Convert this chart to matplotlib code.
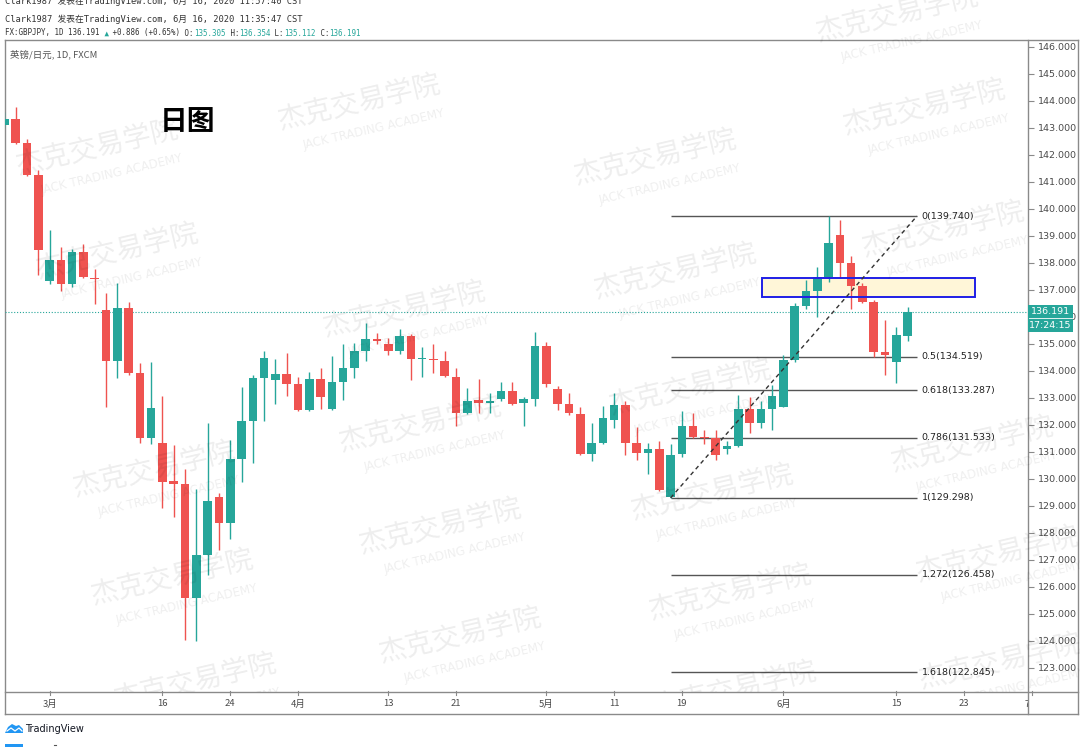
import matplotlib
matplotlib.use('Agg')
import matplotlib.pyplot as plt
from matplotlib.patches import Rectangle, Polygon, Ellipse
import pandas as pd
import numpy as np

# ---------------- data ----------------
dates = pd.bdate_range('2020-02-25', '2020-06-16')
opens = [143.11, 143.32, 142.43, 141.26, 137.33, 138.11, 137.22, 138.42, 137.45, 136.26,
         134.37, 136.33, 133.93, 131.52, 131.33, 129.91, 129.80, 125.58, 127.19, 129.34,
         128.38, 130.74, 132.15, 133.73, 133.67, 133.89, 133.51, 132.56, 133.69, 132.58,
         133.58, 134.10, 134.74, 135.17, 135.00, 134.75, 135.30, 134.44, 134.45, 134.37,
         133.79, 132.43, 132.93, 132.80, 132.96, 133.27, 132.80, 132.95, 134.93, 133.32,
         132.78, 132.41, 130.93, 131.32, 132.19, 132.74, 131.32, 130.95, 131.11, 129.35,
         130.93, 131.96, 131.57, 131.50, 131.10, 131.22, 132.59, 132.09, 132.58, 132.68,
         134.41, 136.41, 136.97, 137.47, 139.04, 137.99, 137.15, 136.57, 134.71, 134.34,
         135.305]
highs = [143.60, 143.79, 142.58, 141.44, 139.22, 138.60, 138.50, 138.70, 137.78, 136.89,
         137.25, 136.57, 134.31, 134.34, 133.07, 131.26, 130.36, 129.62, 132.09, 129.47,
         131.44, 133.42, 133.85, 134.74, 134.43, 134.67, 133.79, 133.97, 134.10, 134.57,
         135.00, 135.05, 135.79, 135.40, 135.21, 135.54, 135.37, 134.90, 135.00, 134.75,
         134.10, 133.36, 133.69, 133.20, 133.60, 133.60, 133.03, 135.46, 135.09, 133.44,
         133.20, 132.66, 132.06, 132.70, 133.17, 132.90, 131.94, 131.32, 131.42, 131.30,
         132.53, 132.46, 131.81, 131.81, 131.42, 133.11, 133.03, 132.90, 133.48, 134.59,
         136.51, 137.37, 137.86, 139.74, 139.59, 138.26, 137.25, 136.63, 135.90, 135.64,
         136.354]
lows = [143.00, 142.40, 141.22, 137.56, 137.22, 136.97, 137.10, 137.44, 136.48, 132.67,
        133.74, 133.85, 131.34, 131.30, 128.93, 128.60, 124.04, 124.01, 126.44, 127.37,
        127.78, 129.90, 130.59, 132.16, 132.78, 133.07, 132.50, 132.53, 132.58, 132.56,
        132.93, 133.73, 134.37, 135.00, 134.59, 134.63, 133.67, 133.77, 133.94, 133.79,
        131.96, 132.41, 132.43, 132.46, 132.89, 132.74, 131.96, 132.70, 133.40, 132.56,
        132.37, 130.89, 130.68, 131.29, 131.88, 130.89, 130.70, 130.19, 129.55, 129.298,
        130.80, 131.51, 131.30, 130.70, 130.93, 131.20, 131.69, 131.88, 131.81, 132.68,
        134.35, 136.29, 135.99, 137.31, 137.47, 136.29, 136.53, 134.53, 133.85, 133.54,
        135.112]
closes = [143.33, 142.43, 141.26, 138.48, 138.11, 137.22, 138.42, 137.49, 137.40, 134.37,
          136.33, 133.93, 131.52, 132.63, 129.89, 129.81, 125.58, 127.19, 129.20, 128.38,
          130.74, 132.15, 133.74, 134.49, 133.89, 133.52, 132.56, 133.69, 133.05, 133.58,
          134.10, 134.74, 135.17, 135.12, 134.75, 135.30, 134.44, 134.47, 134.40, 133.81,
          132.43, 132.90, 132.80, 132.89, 133.27, 132.78, 132.95, 134.93, 133.52, 132.78,
          132.43, 130.93, 131.32, 132.25, 132.74, 131.32, 130.95, 131.11, 129.59, 130.89,
          131.96, 131.57, 131.50, 130.89, 131.22, 132.59, 132.09, 132.59, 133.07, 134.41,
          136.41, 136.97, 137.47, 138.75, 137.99, 137.15, 136.57, 134.71, 134.59, 135.33,
          136.191]

tick_dates = ['2020-03-02', '2020-03-16', '2020-03-24', '2020-04-01', '2020-04-13', '2020-04-21',
              '2020-05-01', '2020-05-11', '2020-05-19', '2020-06-01', '2020-06-15', '2020-06-23',
              '2020-07-01']
tick_labels = ['3月', '16', '24', '4月', '13', '21', '5月', '11', '19', '6月', '15', '23', '7月']

fib_levels = ['0', '0.5', '0.618', '0.786', '1', '1.272', '1.618']
fib_prices = [139.740, 134.519, 133.287, 131.533, 129.298, 126.458, 122.845]
fib_start, fib_end = '2020-05-18', 80.83  # start date of the tool, end position (bar units)

zone_low, zone_high = 136.74, 137.44
last_price = 136.191
countdown = '17:24:15'

# ---------------- layout ----------------
W, H = 1080, 752
UP, DN = '#26a69a', '#ef5350'
CJK = ['Noto Sans CJK SC', 'DejaVu Sans']
MONO = ['DejaVu Sans Mono', 'Noto Sans CJK SC']

fig = plt.figure(figsize=(10.8, 7.52), dpi=100)
fig.patch.set_facecolor('white')

bg = fig.add_axes([0, 0, 1, 1], zorder=0)
bg.set_xlim(0, W); bg.set_ylim(H, 0); bg.axis('off')

Lp, Rp, Tp, Bp, Fb = 5, 1028, 40, 692, 714
Y_TOP, Y_BOT = 146.259, 122.111
ax = fig.add_axes([Lp / W, 1 - Bp / H, (Rp - Lp) / W, (Bp - Tp) / H], zorder=2)
ax.patch.set_alpha(0)
for s in ax.spines.values():
    s.set_visible(False)

full_days = pd.bdate_range('2020-02-25', '2020-07-10')
pos_of = {d.strftime('%Y-%m-%d'): i for i, d in enumerate(full_days)}
xs = np.array([pos_of[d.strftime('%Y-%m-%d')] for d in dates])

x_lo, x_hi = 0.05, 90.66
ax.set_xlim(x_lo, x_hi)
ax.set_ylim(Y_BOT, Y_TOP)

# frame lines
lc = '#8a8a8a'
bg.plot([5, 5], [40, Fb], color=lc, lw=1)
bg.plot([1078, 1078], [40, Fb], color=lc, lw=1)
bg.plot([Rp, Rp], [40, Fb], color=lc, lw=1)
bg.plot([5, 1078], [40, 40], color=lc, lw=1)
bg.plot([5, 1078], [Bp, Bp], color=lc, lw=1)
bg.plot([5, 1078], [Fb, Fb], color=lc, lw=1)

# demand/supply zone
x0z = 67.1
ax.add_patch(Rectangle((x0z, zone_low), 86.0 - x0z, zone_high - zone_low,
                       facecolor='#fff6d8', edgecolor='none', zorder=1))
ax.add_patch(Rectangle((x0z, zone_low), 86.0 - x0z, zone_high - zone_low,
                       facecolor='none', edgecolor='#1f1fe6', lw=1.4, zorder=4))

# last price line
ax.axhline(last_price, color=UP, ls=(0, (1, 1.6)), lw=0.8, zorder=1)

# candles
o = np.array(opens); h = np.array(highs); l = np.array(lows); c = np.array(closes)
cols = [UP if cc >= oo else DN for oo, cc in zip(o, c)]
ax.vlines(xs, l, h, colors=cols, lw=1, zorder=3)
body_lo = np.minimum(o, c)
body_h = np.maximum(np.abs(c - o), 0.045)
ax.bar(xs, body_h, bottom=body_lo, width=0.76, color=cols, zorder=3, linewidth=0)

# fibonacci
fx0 = pos_of[fib_start]
ax.hlines(fib_prices, fx0, fib_end, colors='#555555', lw=1, zorder=2)
for lv, p in zip(fib_levels, fib_prices):
    ax.text(fib_end + 0.4, p, f'{lv}({p:.3f})', va='center', ha='left', fontsize=6.8,
            color='#222222', zorder=5)
ax.plot([fx0, fib_end], [fib_prices[4], fib_prices[0]], color='#333333',
        ls=(0, (3, 2.5)), lw=1, zorder=4)

# price axis
ax.yaxis.tick_right()
yt = np.arange(123, 147)
ax.set_yticks(yt)
ax.set_yticklabels([f'{v:.3f}' for v in yt])
ax.tick_params(axis='y', length=4, width=0.8, color='#8a8a8a', labelsize=6.8,
               labelcolor='#4a4a4a', pad=3)
ax.set_xticks([])

# last price tags (drawn above the price-axis labels)
top = fig.add_axes([0, 0, 1, 1], zorder=3)
top.set_xlim(0, W); top.set_ylim(H, 0); top.axis('off'); top.patch.set_alpha(0)
ypx = lambda p: Tp + (Y_TOP - p) / (Y_TOP - Y_BOT) * (Bp - Tp)
yl = ypx(last_price)
top.add_patch(Rectangle((Rp, yl - 7), 45, 13.5, facecolor=UP, edgecolor='none'))
top.add_patch(Rectangle((Rp, yl + 6.5), 45, 13.5, facecolor=UP, edgecolor='none'))
top.plot([Rp + 1, Rp + 44], [yl + 6.5, yl + 6.5], color='white', lw=0.6)
top.text(Rp + 22.5, yl, f'{last_price:.3f}', ha='center', va='center', fontsize=6.8,
         color='white')
top.text(Rp + 22.5, yl + 13.3, countdown, ha='center', va='center', fontsize=6.8,
         color='white')

# time axis
ta = fig.add_axes([Lp / W, 1 - Fb / H, (Rp - Lp) / W, (Fb - Bp) / H], zorder=2)
ta.set_xlim(x_lo, x_hi); ta.set_ylim(Fb - Bp, 0); ta.axis('off')
for d, lab in zip(tick_dates, tick_labels):
    p = pos_of[d]
    ta.plot([p, p], [-1.5, 3], color='#8a8a8a', lw=0.8, clip_on=False)
    ta.text(p, 12, lab, ha='center', va='center', fontsize=6.8, color='#4a4a4a',
            family=CJK, clip_on=True)

# header
r = fig.canvas.get_renderer()
def runs(x, y, parts, size, fam):
    for s, col in parts:
        t = bg.text(x, y, s, color=col, fontsize=size, family=fam, va='baseline', ha='left')
        x += t.get_window_extent(renderer=r).width

dark = '#333333'
runs(5, 4.5, [('Clark1987 发表在TradingView.com, 6月 16, 2020 11:57:40 CST', dark)], 6.3, MONO)
runs(5, 22.5, [('Clark1987 发表在TradingView.com, 6月 16, 2020 11:35:47 CST', dark)], 6.3, MONO)
runs(5, 35.5, [('FX:GBPJPY, 1D 136.191', dark), (' ▲', UP), (' +0.886 (+0.65%)', dark),
               (' O:', dark), ('135.305', UP), (' H:', dark), ('136.354', UP),
               (' L:', dark), ('135.112', UP), (' C:', dark), ('136.191', UP)], 5.45, MONO)

bg.text(10, 57, '英镑/日元, 1D, FXCM', fontsize=6.8, color='#555555', family=CJK,
        va='baseline')
bg.text(188, 122, '日图', fontsize=20, fontweight='bold', color='black', family=CJK,
        ha='center', va='center', zorder=6)

# TradingView logo
logo_c = '#2196f3'
bg.add_patch(Polygon([[5, 733], [8, 727], [12, 724], [16, 726], [19, 725], [23, 729],
                      [23, 733]], closed=True, facecolor=logo_c, edgecolor='none'))
bg.plot([7, 11, 15, 19, 22], [731, 728, 731, 728, 731], color='white', lw=0.9)
bg.text(25, 729, 'TradingView', fontsize=7, color='#131722', va='center', ha='left')
bg.add_patch(Rectangle((5, 744), 18, 3, facecolor=logo_c, edgecolor='none'))
bg.plot([54, 56], [745, 745], color='#555555', lw=0.8)

# watermark overlay (clipped above the time scale)
wm = fig.add_axes([0, 1 - Bp / H, 1, Bp / H], zorder=10)
wm.set_xlim(0, W); wm.set_ylim(Bp, 0); wm.axis('off'); wm.patch.set_alpha(0)
marks = [(359, 103), (897, 15), (924, 108), (97, 148), (655, 158), (117, 252), (675, 272),
         (943, 230), (404, 310), (154, 470), (420, 425), (690, 388), (972, 445), (440, 527),
         (712, 493), (172, 578), (730, 593), (997, 555), (460, 636), (195, 682), (735, 690),
         (1000, 662)]
for cx, cy in marks:
    wm.text(cx, cy, '杰克交易学院', fontsize=20, rotation=13, rotation_mode='anchor',
            ha='center', va='center', color='black', alpha=0.07, family=CJK, clip_on=True)
    wm.text(cx + 15, cy + 26, 'JACK TRADING ACADEMY', fontsize=8.5, rotation=13,
            rotation_mode='anchor', ha='center', va='center', color='black', alpha=0.065,
            clip_on=True)

fig.savefig('out.png', dpi=100, facecolor='white')
